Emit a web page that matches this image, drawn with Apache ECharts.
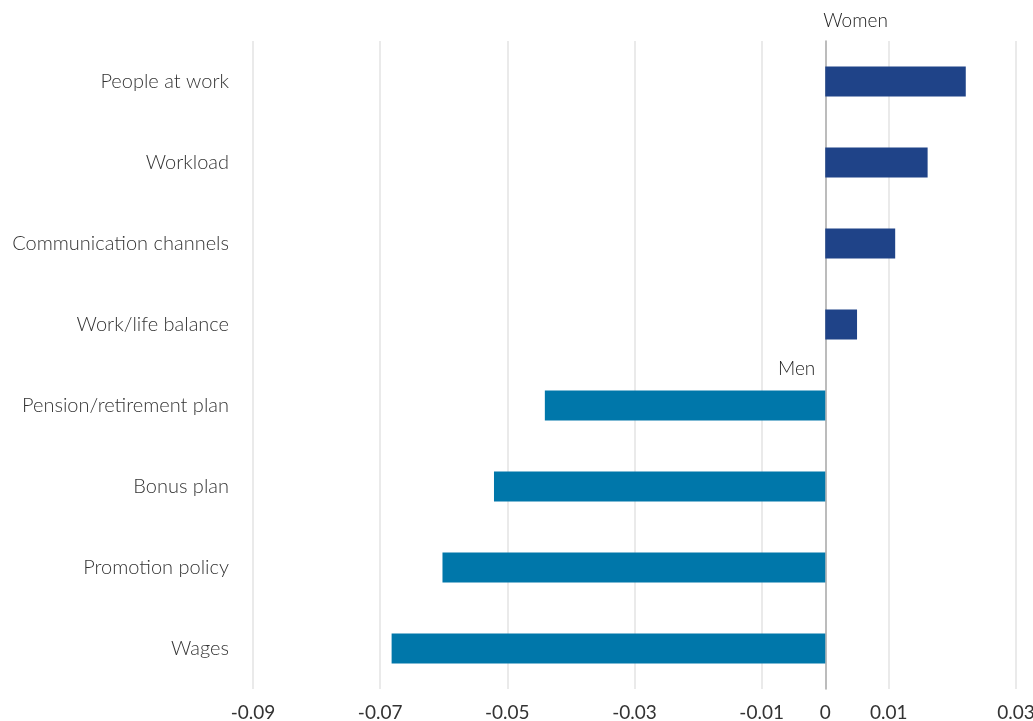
<!DOCTYPE html>
<html>
<head>
<meta charset="utf-8">
<script src="https://cdn.jsdelivr.net/npm/echarts@6/dist/echarts.min.js"></script>
<style>
  html, body { margin: 0; padding: 0; background: #fff; }
  #chart { width: 1033px; height: 721px; }
</style>
</head>
<body>
<div id="chart"></div>
<script>
// categories top to bottom
const categories = [
  "People at work",
  "Workload",
  "Communication channels",
  "Work/life balance",
  "Pension/retirement plan",
  "Bonus plan",
  "Promotion policy",
  "Wages"
];
// women: positive side, men: negative side
const womenValues = [0.0221, 0.0161, 0.011, 0.005, "-", "-", "-", "-"];
const menValues = ["-", "-", "-", "-", -0.0441, -0.0521, -0.0602, -0.0682];

const xMin = -0.09;
const xMax = 0.03;
const xStep = 0.02;

const font = "Lato";
const chart = echarts.init(document.getElementById("chart"));

chart.setOption({
  animation: false,
  grid: { left: 253, right: 17, top: 41, bottom: 32, outerBoundsMode: "none" },
  xAxis: [
    {
      type: "value",
      min: xMin,
      max: xMax,
      interval: xStep,
      axisLine: { show: false },
      axisTick: { show: false },
      splitLine: { lineStyle: { color: "#e3e3e3", width: 1.5 } },
      axisLabel: {
        color: "#333",
        fontFamily: font,
        fontSize: 19,
        margin: 14,
        formatter: v => v.toFixed(2)
      }
    },
    {
      // only used for the "0" label at the axis line
      type: "value",
      position: "bottom",
      min: xMin,
      max: xMax,
      interval: 0.09,
      axisLine: { show: false },
      axisTick: { show: false },
      splitLine: { show: false },
      axisLabel: {
        color: "#333",
        fontFamily: font,
        fontSize: 19,
        margin: 14,
        showMinLabel: true,
        showMaxLabel: false,
        formatter: v => (Math.abs(v) < 1e-9 ? "0" : "")
      }
    }
  ],
  yAxis: {
    type: "category",
    data: categories,
    inverse: true,
    axisTick: { show: false },
    axisLine: { onZero: true, lineStyle: { color: "#a6a6a6", width: 1.5 } },
    axisLabel: {
      color: "#333",
      fontFamily: font,
      fontWeight: 300,
      fontSize: 20,
      margin: 24
    }
  },
  series: [
    {
      name: "Women",
      type: "bar",
      stack: "all",
      barWidth: 30,
      data: womenValues,
      itemStyle: { color: "#1f4388" },
      markPoint: {
        symbol: "circle",
        symbolSize: 0,
        data: [{ coord: [0, categories[0]] }],
        label: {
          show: true,
          formatter: "Women",
          color: "#222",
          fontFamily: font,
          fontWeight: 300,
          fontSize: 19,
          align: "left",
          offset: [-2, -61]
        }
      }
    },
    {
      name: "Men",
      type: "bar",
      stack: "all",
      barWidth: 30,
      data: menValues,
      itemStyle: { color: "#0077aa" },
      markPoint: {
        symbol: "circle",
        symbolSize: 0,
        data: [{ coord: [0, categories[4]] }],
        label: {
          show: true,
          formatter: "Men",
          color: "#222",
          fontFamily: font,
          fontWeight: 300,
          fontSize: 19,
          align: "right",
          offset: [-10, -37]
        }
      }
    }
  ]
});
</script>
</body>
</html>
